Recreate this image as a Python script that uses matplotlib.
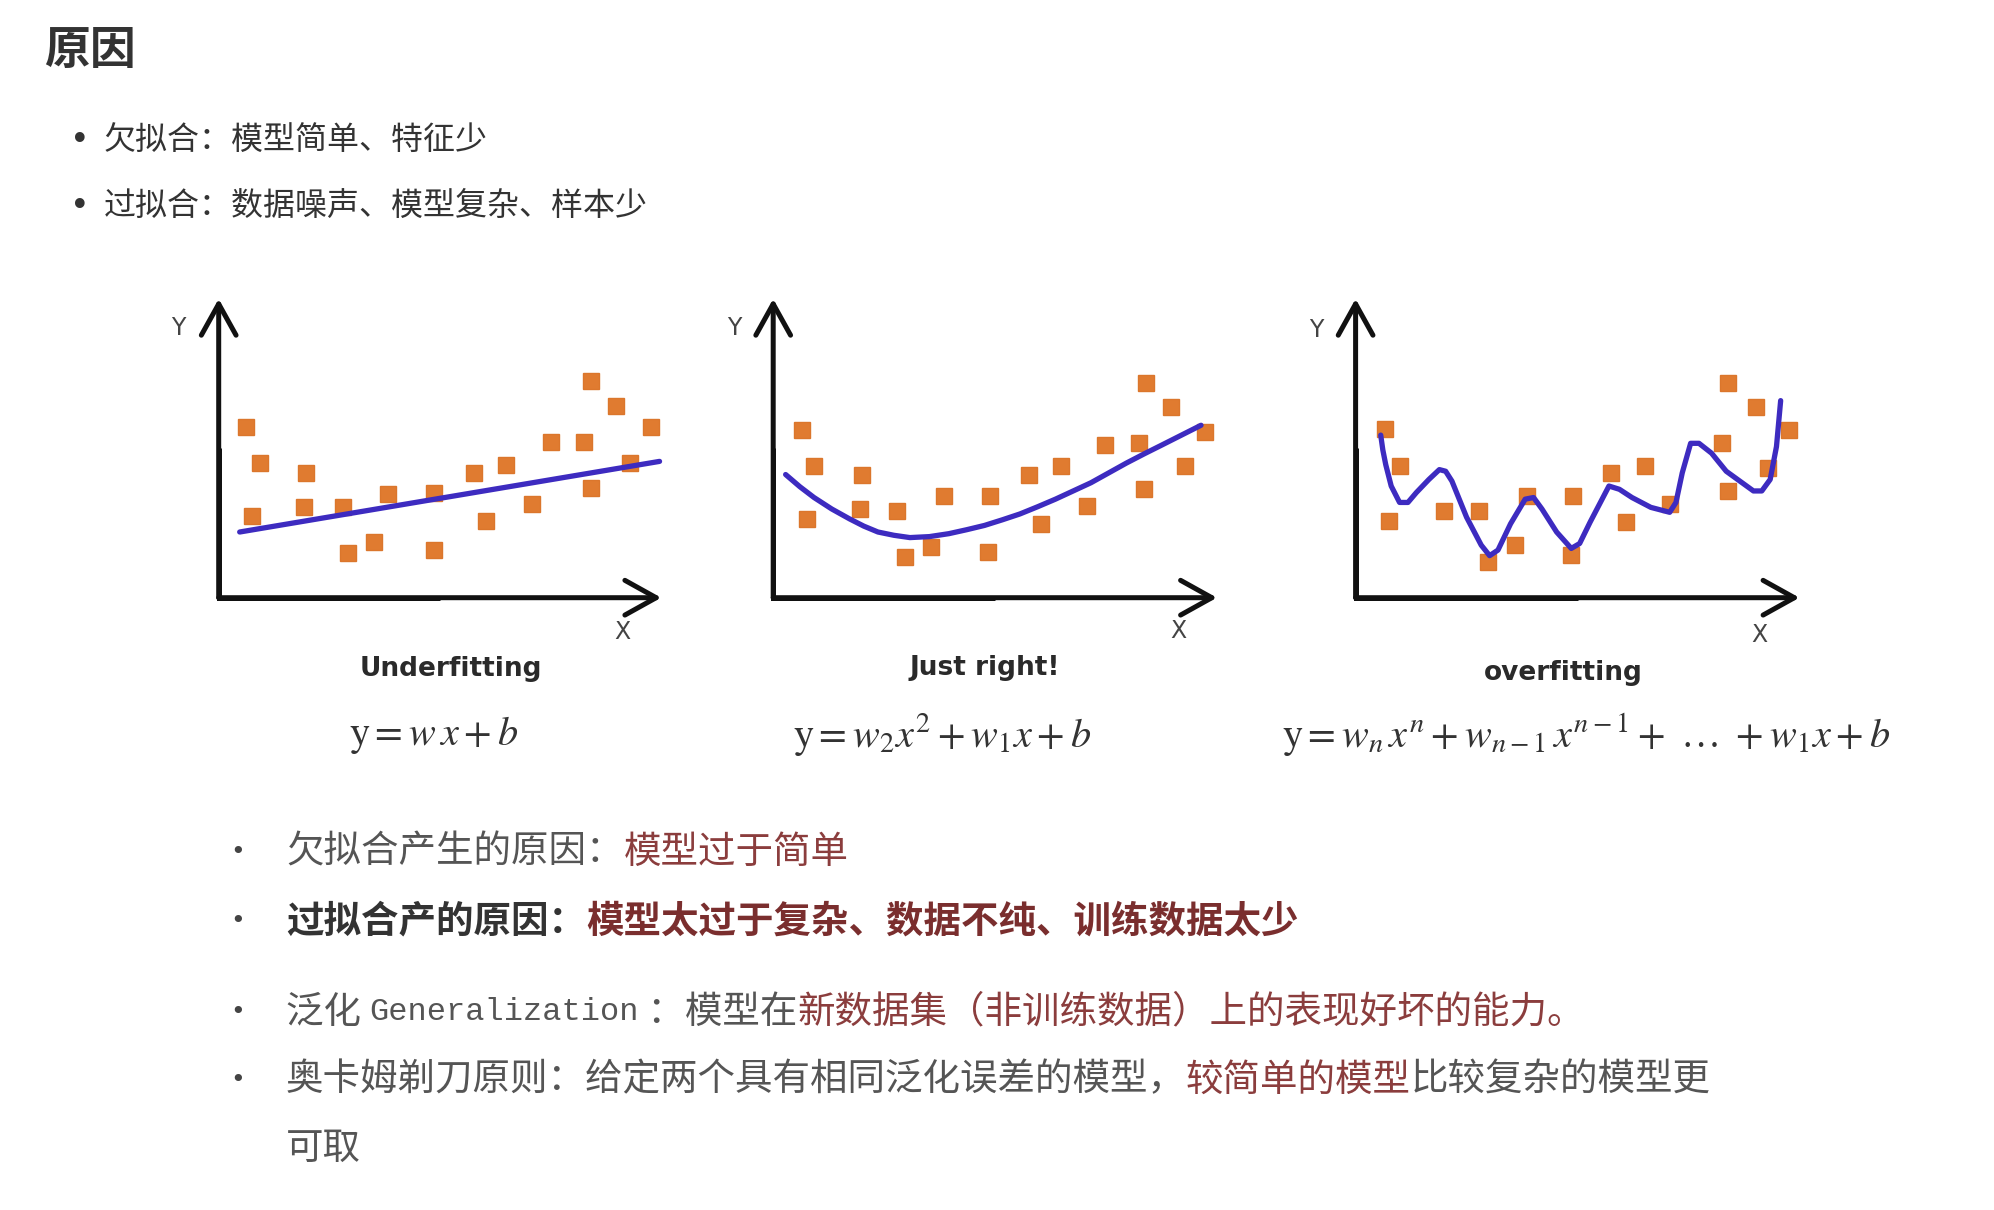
import matplotlib.pyplot as plt

plt.rcParams['font.family'] = ['Noto Sans CJK SC', 'DejaVu Sans']
plt.rcParams['mathtext.fontset'] = 'stix'

W, H = 1994, 1210

# chart points, in chart units measured from the origin of each sketch
uf_x = [78, 118, 95, 250, 245, 355, 370, 445, 485, 615, 615, 730, 765, 820,
        895, 950, 1045, 1065, 1135, 1065, 1175, 1235]
uf_y = [520, 410, 250, 380, 275, 275, 135, 170, 315, 320, 145, 380, 235, 405,
        285, 475, 475, 660, 585, 335, 410, 520]
uf_fit_x = [60, 1260]
uf_fit_y = [200, 415]

jr_x = [80, 115, 95, 250, 245, 350, 370, 445, 480, 610, 605, 720, 755, 810,
        885, 935, 1030, 1050, 1120, 1045, 1160, 1215]
jr_y = [510, 400, 240, 375, 270, 265, 125, 155, 310, 310, 140, 375, 225, 400,
        280, 465, 470, 655, 580, 330, 400, 505]
jr_fit_x = [35, 75, 115, 165, 215, 255, 295, 340, 385, 440, 495, 545, 595,
            645, 695, 745, 795, 845, 895, 945, 995, 1045, 1095, 1150, 1205]
jr_fit_y = [375, 338, 305, 270, 240, 218, 200, 190, 183, 186, 195, 207, 220,
            237, 255, 277, 300, 325, 350, 380, 410, 438, 465, 495, 525]

of_x = [70, 105, 80, 210, 295, 315, 380, 410, 520, 515, 610, 645, 690, 750,
        875, 890, 955, 890, 985, 1035]
of_y = [515, 400, 235, 265, 265, 110, 160, 310, 310, 130, 380, 230, 400, 285,
        470, 655, 580, 325, 395, 510]
of_fit_x = [60, 65, 72, 85, 105, 125, 145, 175, 200, 215, 230, 265, 300, 320,
            340, 370, 405, 425, 445, 480, 515, 535, 560, 605, 630, 660, 705,
            750, 765, 780, 800, 820, 850, 885, 950, 970, 990, 1005, 1015]
of_fit_y = [495, 450, 405, 340, 290, 290, 320, 360, 390, 385, 355, 245, 160,
            128, 145, 225, 300, 305, 270, 200, 150, 165, 230, 340, 330, 305,
            275, 260, 290, 380, 470, 470, 440, 385, 325, 325, 360, 460, 600]

titles = ['Underfitting', 'Just right!', 'overfitting']
formulas = [r'$\mathrm{y} = w\,x + b$',
            r'$\mathrm{y} = w_2 x^2 + w_1 x + b$',
            r'$\mathrm{y} = w_n\,x^n + w_{n-1}\,x^{n-1} +\ \ldots\ + w_1 x + b$']

top_items = ['欠拟合：模型简单、特征少', '过拟合：数据噪声、模型复杂、样本少']

GRAY = '#555555'
RED = '#8b3d3d'
DARK = '#333333'
DRED = '#7a2e2e'
CJK = ['Noto Sans CJK SC', 'DejaVu Sans']
MONO = ['Liberation Mono']
lower_lines = [
    [('欠拟合产生的原因：', GRAY, CJK), ('模型过于简单', RED, CJK)],
    [('过拟合产的原因：', DARK, CJK),
     ('模型太过于复杂、数据不纯、训练数据太少', DRED, CJK)],
    [('泛化 ', GRAY, CJK), ('Generalization', GRAY, MONO),
     (' ：模型在', GRAY, CJK),
     ('新数据集（非训练数据）上的表现好坏的能力。', RED, CJK)],
    [('奥卡姆剃刀原则：给定两个具有相同泛化误差的模型，', GRAY, CJK),
     ('较简单的模型', RED, CJK), ('比较复杂的模型更', GRAY, CJK)],
    [('可取', GRAY, CJK)],
]

fig = plt.figure(figsize=(W / 100, H / 100), dpi=100)
bg = fig.add_axes([0, 0, 1, 1])
bg.set_xlim(0, W)
bg.set_ylim(H, 0)
bg.axis('off')
renderer = fig.canvas.get_renderer()

bg.text(44, 51, '原因', fontsize=33, fontweight='bold', color=DARK,
        va='center', ha='left')
for i, s in enumerate(top_items):
    y = 140 + i * 66
    bg.text(80, y, '•', fontsize=24, color=DARK, ha='center', va='center',
            family=['DejaVu Sans'])
    bg.text(104, y, s, fontsize=23, color=DARK, ha='left', va='center')


def sketch(origin, tip, tip_data, xs, ys, fx, fy, title, labpos):
    ox, oy = origin
    tx, ty = tip
    dx, dy = tip_data
    sx = dx / (tx - ox)
    sy = dy / (oy - ty)
    L, R, T, B = ox - 80, tx + 30, ty - 15, oy + 110
    ax = fig.add_axes([L / W, 1 - B / H, (R - L) / W, (B - T) / H])
    ax.set_xlim((L - ox) * sx, (R - ox) * sx)
    ax.set_ylim((oy - B) * sy, (oy - T) * sy)
    ax.axis('off')
    ax.plot(xs, ys, 's', ms=12, color='#e07b30', mec='#db762c', zorder=2)
    ax.plot(fx, fy, color='#3d2bc0', lw=3.8, solid_capstyle='round',
            solid_joinstyle='round', zorder=3)
    ax.plot([0, 0, dx * 0.5], [dy * 0.5, 0, 0], color='#111111', lw=3.6,
            solid_joinstyle='miter', solid_capstyle='butt', zorder=4)
    arrow = dict(arrowstyle='->,head_length=0.9,head_width=0.5', lw=3.6,
                 color='#111111', shrinkA=0, shrinkB=0, mutation_scale=25)
    ax.annotate('', xy=(dx, 0), xytext=(0, 0), arrowprops=arrow, zorder=4)
    ax.annotate('', xy=(0, dy), xytext=(0, 0), arrowprops=arrow, zorder=4)
    (yx, yy), (xx, xy), (tx_, ty_) = labpos
    ax.text(yx, yy, 'Y', fontsize=17, color='#444444', ha='center',
            va='center', family=['DejaVu Sans'])
    ax.text(xx, xy, 'X', fontsize=17, color='#444444', ha='center',
            va='center', family=['DejaVu Sans'])
    ax.text(tx_, ty_, title, fontsize=19, fontweight='bold', color='#2a2a2a',
            ha='center', va='center', family=['DejaVu Sans'])
    return ax


sketch((218.7, 597.7), (661.3, 298.8), (1265, 910), uf_x, uf_y,
       uf_fit_x, uf_fit_y, titles[0],
       [(-115, 820), (1155, -105), (665, -218)])
sketch((773.2, 597.7), (1217.0, 298.8), (1250, 910), jr_x, jr_y,
       jr_fit_x, jr_fit_y, titles[1],
       [(-110, 820), (1140, -100), (595, -215)])
sketch((1355.6, 597.7), (1799.5, 298.8), (1060, 910), of_x, of_y,
       of_fit_x, of_fit_y, titles[2],
       [(-95, 815), (965, -115), (495, -230)])

for fx_, f in zip([434, 942, 1586], formulas):
    bg.text(fx_, 735, f, fontsize=29, color=DARK, ha='center', va='center')

line_y = [852, 921, 1012, 1080, 1148]
for k, (y, parts) in enumerate(zip(line_y, lower_lines)):
    weight = 'bold' if k == 1 else 'normal'
    if k != 4:
        bg.text(238, y, '•', fontsize=18, color='#444444', ha='center',
                va='center', family=['DejaVu Sans'])
    x = 286
    for s, c, fam in parts:
        size = 23 if fam == MONO else 27
        t = bg.text(x, y, s, fontsize=size, color=c, ha='left', va='center',
                    family=fam, fontweight=weight)
        x += t.get_window_extent(renderer).width

fig.savefig('out.png', dpi=100)
